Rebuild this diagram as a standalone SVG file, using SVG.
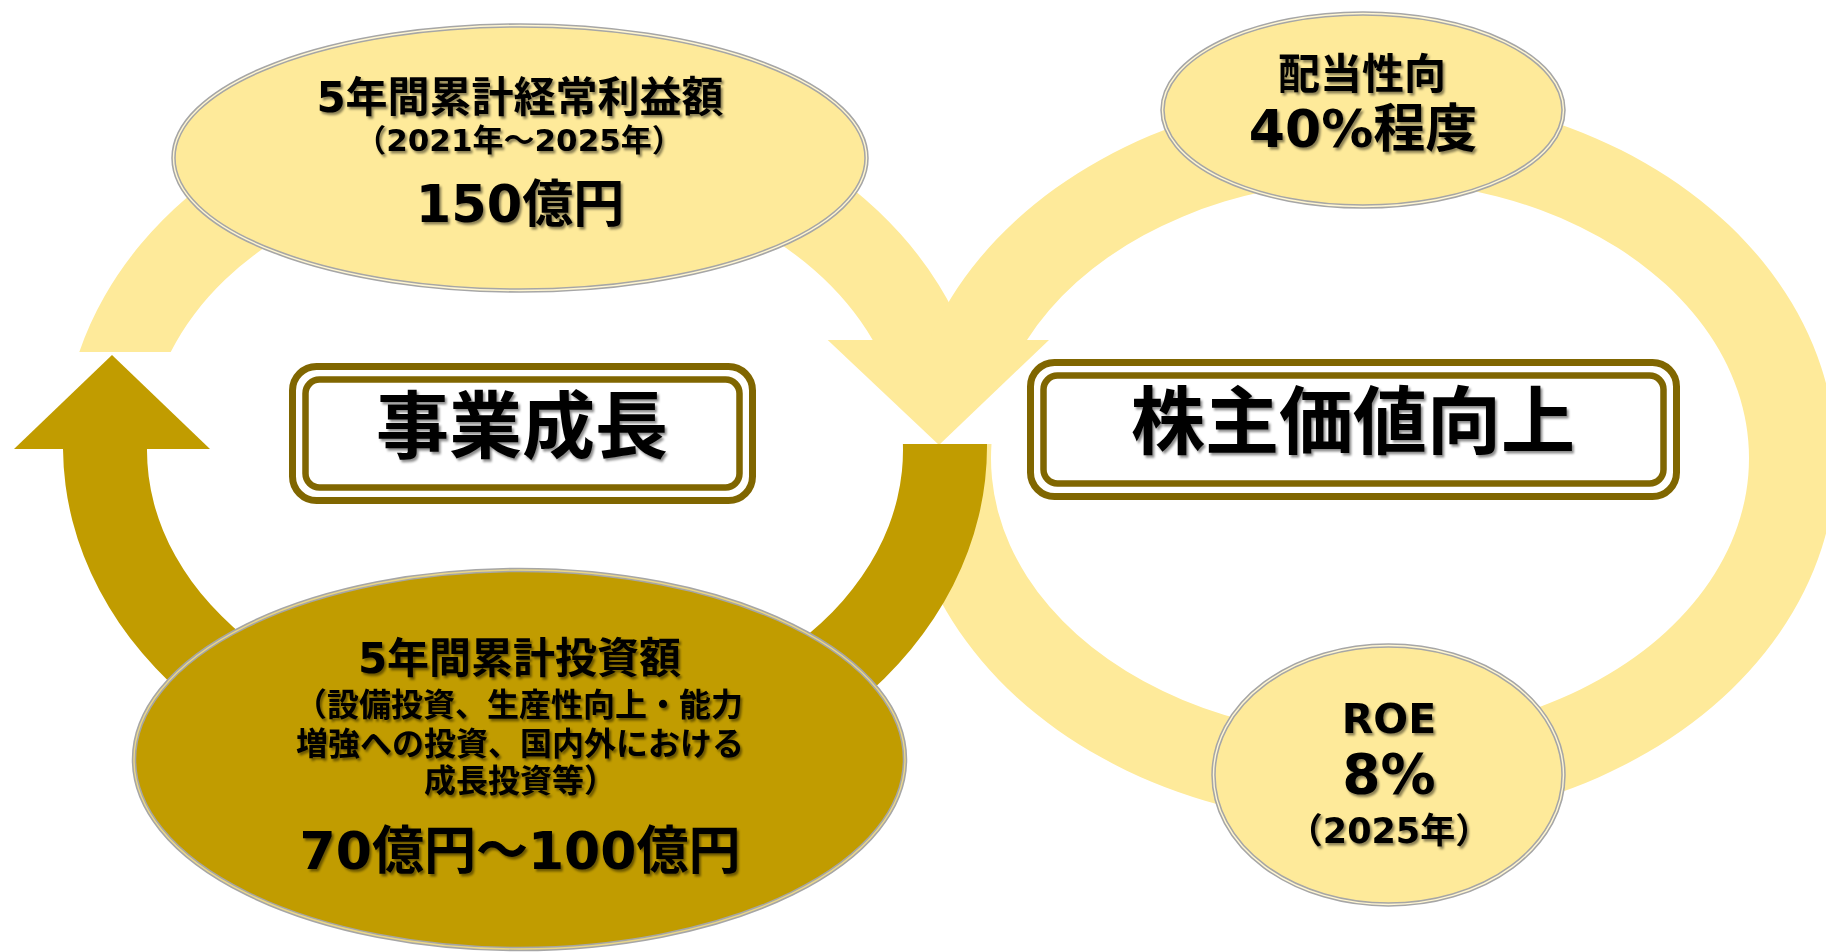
<svg xmlns="http://www.w3.org/2000/svg" width="1826" height="952" viewBox="0 0 1826 952">
<defs>
<style>
.lt{fill:#FEEA9A}
.dk{fill:#C19C00}
.eb{stroke:#A6A6A6;stroke-width:4.5}
.gapL{fill:none;stroke:#FFF6D2;stroke-width:1.4}
.gapD{fill:none;stroke:#E9D68A;stroke-width:1.4}
.rb{fill:none;stroke:#806600;stroke-width:7}
.rbi{fill:#FFFFFF;stroke:#806600;stroke-width:6.5}
text{font-family:"DejaVu Sans","Noto Sans CJK JP",sans-serif;font-weight:bold;fill:#000;text-anchor:middle;filter:url(#ts)}
</style>
<filter id="ts" x="-10%" y="-20%" width="120%" height="150%">
<feDropShadow dx="2" dy="2.5" stdDeviation="1.3" flood-color="#000" flood-opacity="0.45"/>
</filter>
</defs>
<rect width="1826" height="952" fill="#FFFFFF"/>
<g id="connectors">
<path class="lt" d="M79.3,352 A462 369 0 0 1 966.4,340 L872.7,340 A378 278 0 0 0 170.7,352 Z"/>
<path class="lt" d="M929,340 A466 366 0 1 1 904.3,444 L991.5,444 A379 278 0 1 0 1027,340 Z"/>
<polygon class="lt" points="827.7,340 1049,340 939,445"/>
<path class="dk" d="M987,444 A462 369 0 1 1 63,449 L147,449 A378 278 0 1 0 902.9,444 Z"/>
<polygon class="dk" points="14,449 210,449 112,355"/>
</g>
<g id="node-profit">
<ellipse class="lt eb" cx="520" cy="158" rx="346.5" ry="132.5"/>
<ellipse class="gapL" cx="520" cy="158" rx="346.5" ry="132.5"/>
<text x="520" y="112" font-size="42">5年間累計経常利益額</text>
<text x="519" y="151" font-size="31">（2021年～2025年）</text>
<text x="520" y="222" font-size="51">150億円</text>
</g>
<g id="node-dividend">
<ellipse class="lt eb" cx="1363" cy="110" rx="200.5" ry="96.5"/>
<ellipse class="gapL" cx="1363" cy="110" rx="200.5" ry="96.5"/>
<text x="1362" y="89" font-size="42">配当性向</text>
<text x="1363" y="147" font-size="52">40%程度</text>
</g>
<g id="node-invest">
<ellipse class="dk eb" cx="519.5" cy="759.5" rx="385.5" ry="189.5"/>
<ellipse class="gapD" cx="519.5" cy="759.5" rx="385.5" ry="189.5"/>
<text x="519.5" y="673" font-size="42">5年間累計投資額</text>
<text x="519" y="716" font-size="32">（設備投資、生産性向上・能力</text>
<text x="520" y="755" font-size="32">増強への投資、国内外における</text>
<text x="520" y="792" font-size="32">成長投資等）</text>
<text x="520" y="869" font-size="52">70億円～100億円</text>
</g>
<g id="node-roe">
<ellipse class="lt eb" cx="1388.5" cy="775" rx="175" ry="129.5"/>
<ellipse class="gapL" cx="1388.5" cy="775" rx="175" ry="129.5"/>
<text x="1389" y="733" font-size="41">ROE</text>
<text x="1389" y="793" font-size="55">8%</text>
<text x="1389" y="843" font-size="35">（2025年）</text>
</g>
<g id="node-growth">
<rect class="rb" x="292.5" y="366.5" width="460" height="134" rx="24"/>
<rect class="rbi" x="305.5" y="379.5" width="434" height="108" rx="14"/>
<text x="522" y="452" font-size="73">事業成長</text>
</g>
<g id="node-value">
<rect class="rb" x="1030.5" y="362.5" width="646" height="134" rx="24"/>
<rect class="rbi" x="1043.5" y="375.5" width="620" height="108" rx="14"/>
<text x="1353" y="448" font-size="74">株主価値向上</text>
</g>
</svg>
